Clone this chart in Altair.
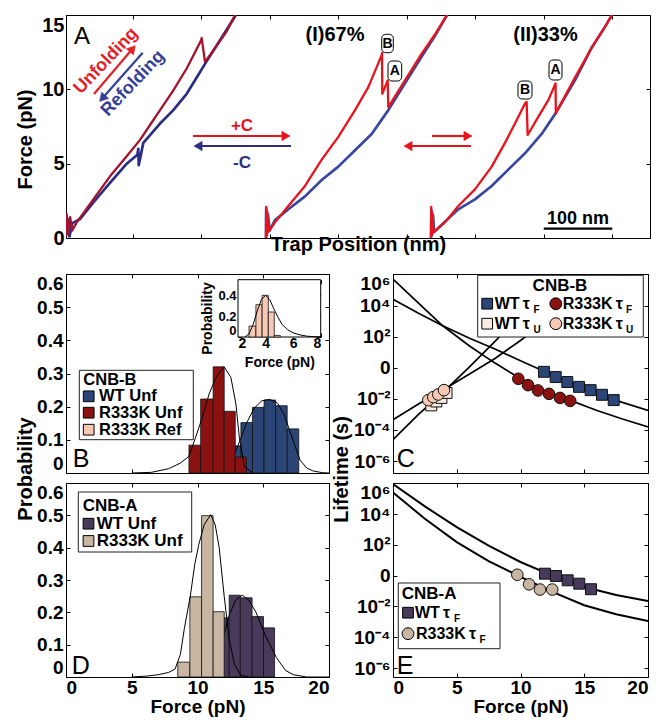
import altair as alt
import pandas as pd

FONT = "Liberation Sans"

# ================= Panel A : force vs trap position (nm, pN) =================
AL_unf_nm = [3, 4, 6, 9, 12, 18.5, 42.8, 67.1, 91.5, 110.9, 125.5, 140.1, 159.5, 179.0, 199.0, 200.9, 205.7, 217.8, 237.4, 249.5]
AL_unf_pN = [0.1, 1.6, 0.3, 1.4, 0.5, 1.05, 2.6, 4.15, 5.5, 6.6, 7.6, 8.6, 9.93, 11.4, 13.2, 13.45, 11.85, 12.6, 13.9, 15.0]
AL_ref_nm = [3, 5, 8, 12, 23.3, 42.8, 67.1, 91.5, 107.0, 108.4, 109.0, 115.7, 140.1, 159.5, 179.0, 193.6, 208.2, 227.6, 249.5, 253.0]
AL_ref_pN = [0.15, 1.3, 0.1, 1.0, 1.27, 2.4, 3.7, 5.0, 5.6, 6.0, 4.9, 6.4, 7.7, 8.6, 9.7, 10.8, 11.9, 13.3, 14.9, 15.3]

AM_unf_nm = [294.7, 294.9, 295.5, 296.5, 298.0, 307.8, 327.3, 351.6, 376.0, 400.2, 424.6, 444.0, 463.5, 464.0, 464.4, 472.3, 473.2, 497.5, 521.9, 541.3, 558.8]
AM_unf_pN = [0.0, 2.1, 0.3, 1.8, 0.4, 1.05, 2.15, 3.5, 5.27, 6.8, 8.6, 10.15, 12.3, 12.45, 9.7, 10.6, 8.8, 10.6, 12.4, 13.7, 15.0]
AM_ref_nm = [294.7, 295.0, 296.0, 297.5, 300.0, 307.8, 327.3, 351.6, 376.0, 400.2, 424.6, 448.9, 473.2, 497.5, 521.9, 541.3, 558.8]
AM_ref_pN = [0.0, 2.0, 0.2, 1.6, 0.5, 1.2, 1.93, 2.8, 3.9, 4.8, 5.9, 7.0, 8.6, 10.4, 12.2, 13.6, 15.0]

AR_unf_nm = [535.5, 535.8, 536.5, 537.5, 539.0, 555.9, 575.3, 599.6, 624.0, 643.4, 658.0, 672.6, 675.0, 676.5, 692.0, 706.6, 717.2, 717.6, 745.5, 769.9, 789.3, 799.5]
AR_unf_pN = [0.0, 2.1, 0.2, 1.7, 0.4, 1.05, 2.15, 3.27, 4.8, 6.4, 7.7, 9.05, 9.15, 6.93, 8.15, 9.27, 10.4, 8.4, 10.8, 12.8, 14.2, 15.0]
AR_ref_nm = [535.5, 536.0, 537.0, 538.5, 540.0, 555.9, 575.3, 599.6, 624.0, 648.2, 672.6, 696.9, 717.4, 745.5, 769.9, 789.3, 799.5]
AR_ref_pN = [0.0, 1.9, 0.2, 1.5, 0.4, 1.1, 1.93, 2.6, 3.5, 4.6, 5.7, 7.0, 8.4, 10.6, 12.8, 14.2, 15.0]

A_xticks = [100, 200, 300, 400, 500, 600, 700, 800]
A_yticks = [0, 5, 10, 15]
A_bar_nm = [700, 800]

# ================= Panel B : CNB-B unfolding force histograms =================
B_wt_edges = [12.41, 13.30, 14.18, 15.06, 15.94, 16.82, 17.70]
B_wt_prob = [0.082, 0.152, 0.198, 0.220, 0.203, 0.133]
B_mut_edges = [9.35, 10.24, 11.19, 12.03, 12.87, 13.72]
B_mut_prob = [0.084, 0.223, 0.320, 0.186, 0.048]
B_wt_fit_f = [11.0, 12.0, 12.7, 13.3, 13.7, 14.3, 14.9, 15.5, 16.1, 16.6, 17.27, 17.8, 18.3, 18.8, 19.5, 20.0]
B_wt_fit_p = [0.0, 0.012, 0.045, 0.105, 0.148, 0.195, 0.218, 0.222, 0.21, 0.175, 0.098, 0.039, 0.015, 0.006, 0.001, 0.0]
B_mut_fit_f = [5.0, 6.5, 7.8, 8.7, 9.35, 9.86, 10.37, 10.88, 11.4, 12.03, 12.54, 12.92, 13.18, 13.56, 14.2]
B_mut_fit_p = [0.0, 0.002, 0.013, 0.03, 0.05, 0.108, 0.168, 0.238, 0.288, 0.32, 0.288, 0.208, 0.108, 0.02, 0.0]
# inset: R333K refolding forces
B_ref_edges = [2.80, 3.30, 3.75, 4.20, 4.63, 5.07]
B_ref_prob = [0.105, 0.310, 0.400, 0.240, 0.015]
B_ref_fit_f = [2.5, 2.8, 3.1, 3.4, 3.7, 4.0, 4.3, 4.6, 4.9, 5.2, 5.6, 6.0, 6.5, 7.0, 7.5, 8.0]
B_ref_fit_p = [0.0, 0.03, 0.12, 0.25, 0.36, 0.40, 0.36, 0.27, 0.19, 0.12, 0.07, 0.04, 0.02, 0.008, 0.003, 0.001]

# ================= Panel D : CNB-A unfolding force histograms =================
D_wt_edges = [11.55, 12.41, 13.26, 14.15, 15.02, 15.86]
D_wt_prob = [0.183, 0.253, 0.245, 0.187, 0.152]
D_mut_edges = [8.50, 9.42, 10.31, 11.19, 12.03]
D_mut_prob = [0.046, 0.248, 0.499, 0.202]
D_wt_fit_f = [10.5, 11.0, 11.4, 11.9, 12.4, 12.9, 13.4, 13.9, 14.45, 15.2, 16.0, 16.7, 17.3, 18.3, 20.0]
D_wt_fit_p = [0.0, 0.01, 0.045, 0.115, 0.19, 0.238, 0.253, 0.238, 0.2, 0.125, 0.06, 0.02, 0.007, 0.0, 0.0]
D_mut_fit_f = [5.0, 6.2, 7.0, 7.8, 8.3, 8.7, 9.0, 9.45, 9.8, 10.1, 10.5, 11.0, 11.35, 11.65, 12.03, 12.4, 12.8, 13.3, 13.9]
D_mut_fit_p = [0.0, 0.003, 0.007, 0.014, 0.025, 0.07, 0.15, 0.25, 0.35, 0.41, 0.47, 0.502, 0.47, 0.40, 0.25, 0.12, 0.04, 0.005, 0.0]

HIST_XTICKS = [0, 5, 10, 15, 20]
HIST_YTICKS = [0, 0.1, 0.2, 0.3, 0.4, 0.5, 0.6]

# ================= Panel C : CNB-B lifetimes (log10 of seconds) =================
C_wtF_f = [11.84, 12.76, 13.67, 14.59, 15.50, 16.39, 17.31]
C_wtF_log = [-0.26, -0.60, -0.92, -1.23, -1.44, -1.74, -2.08]
C_mutF_f = [9.83, 10.59, 11.37, 12.24, 13.10, 13.90]
C_mutF_log = [-0.71, -1.12, -1.46, -1.68, -1.94, -2.13]
C_wtU_f = [3.00, 3.40, 3.80, 4.20]
C_wtU_log = [-2.42, -2.17, -1.94, -1.62]
C_mutU_f = [2.77, 3.16, 3.55, 4.00]
C_mutU_log = [-2.08, -1.89, -1.72, -1.44]
C_fit_mutF_f = [0, 2, 3.9, 6, 8, 9.83, 11.4, 13.9, 16, 18, 20]
C_fit_mutF_log = [5.7, 4.15, 2.7, 1.4, 0.3, -0.62, -1.3, -2.1, -2.75, -3.3, -3.8]
C_fit_wtF_f = [0, 2, 3.9, 6, 8, 10, 11.84, 13.7, 15.5, 17.3, 20]
C_fit_wtF_log = [4.4, 3.5, 2.7, 1.9, 1.2, 0.45, -0.22, -0.9, -1.5, -2.05, -2.75]
C_fit_wtU_f = [0, 2, 4.08, 6, 8, 9, 10, 12, 14]
C_fit_wtU_log = [-4.63, -3.0, -1.45, 0.05, 1.7, 2.55, 3.4, 5.0, 6.6]
C_fit_mutU_f = [0, 2, 4.08, 6, 8, 10, 11.3, 12, 14, 16, 18, 20]
C_fit_mutU_log = [-3.34, -2.33, -1.35, -0.4, 0.6, 1.75, 2.55, 2.95, 4.0, 5.0, 5.9, 6.7]

# ================= Panel E : CNB-A lifetimes (log10 of seconds) =================
E_wtF_f = [11.92, 12.78, 13.70, 14.61, 15.53]
E_wtF_log = [0.13, -0.02, -0.30, -0.52, -0.88]
E_mutF_f = [9.75, 10.67, 11.53, 12.49]
E_mutF_log = [0.06, -0.56, -0.90, -0.90]
E_fit_f = [0, 2.5, 5, 7.5, 10, 12.5, 15, 17.5, 20]
E_fit_wt_log = [5.95, 4.5, 3.15, 1.95, 0.89, 0.0, -0.73, -1.25, -1.64]
E_fit_mut_log = [5.4, 3.7, 2.18, 0.95, -0.08, -1.05, -1.92, -2.5, -2.95]

LOG_TICKS = [1e-6, 1e-4, 1e-2, 1, 1e2, 1e4, 1e6]

# ---------------- colours ----------------
CRIMSON = "#a3132c"
NAVY = "#2b2e83"
RED = "#e8141c"
BLUE = "#3a47a0"
B_WT = "#2b4676"
B_MUT = "#8c1212"
B_REF = "#f7c8b3"
D_WT = "#483a5a"
D_MUT = "#c8b6a2"
C_CREAM = "#f7ece2"


# ---------------- helpers ----------------
def one():
    return alt.Data(values=[{"k": 1}])


def sdf(name, xs, ys):
    return pd.DataFrame({"x": xs, "y": ys, "series": name, "idx": list(range(len(xs)))})


def pow10(v):
    return [10 ** a for a in v]


def bars_df(edges, probs):
    return pd.DataFrame({"lo": edges[:-1], "hi": edges[1:], "p": probs})


def ax(orient, values, labels=True, size=19, **kw):
    d = dict(orient=orient, values=values, labels=labels, ticks=True, tickSize=4,
             tickColor="black", tickWidth=1, offset=-4, domain=False, grid=False,
             labelFont=FONT, labelFontSize=size, labelFontWeight="bold",
             labelColor="black", labelOverlap=False,
             titleFont=FONT, titleFontSize=20, titleFontWeight="bold", titleColor="black")
    d.update(kw)
    if "title" not in d:
        d["title"] = None
    return alt.Axis(**d)


def frame(xs, ys, xv, yv, fx, fy, top_kw=None, right_kw=None):
    top_kw = top_kw or {}
    right_kw = right_kw or {}
    d = alt.Data(values=[{"fx": fx, "fy": fy}])
    return alt.Chart(d).mark_point(opacity=0, clip=True).encode(
        x=alt.X("fx:Q", scale=xs, axis=ax("top", xv, labels=False, **top_kw)),
        y=alt.Y("fy:Q", scale=ys, axis=ax("right", yv, labels=False, **right_kw)))


def text(x, y, s, size=18, color="black", weight="bold", align="left",
         baseline="middle", angle=None, font=FONT):
    props = dict(text=s, fontSize=size, color=color, fontWeight=weight,
                 align=align, baseline=baseline, font=font)
    if angle is not None:
        props["angle"] = angle
    return alt.Chart(one()).mark_text(**props).encode(x=alt.value(x), y=alt.value(y))


def box(x1, y1, x2, y2, stroke="#222", sw=1, radius=0):
    props = dict(fill="white", stroke=stroke, strokeWidth=sw)
    if radius:
        props["cornerRadius"] = radius
    return alt.Chart(one()).mark_rect(**props).encode(
        x=alt.value(x1), x2=alt.value(x2), y=alt.value(y1), y2=alt.value(y2))


def seg(x1, y1, x2, y2, color, sw=2):
    return alt.Chart(one()).mark_rule(color=color, strokeWidth=sw).encode(
        x=alt.value(x1), y=alt.value(y1), x2=alt.value(x2), y2=alt.value(y2))


def head(x, y, shape, color, size=80, angle=None):
    props = dict(shape=shape, filled=True, fill=color, stroke=color, strokeWidth=0.5,
                 size=size, opacity=1)
    if angle is not None:
        props["angle"] = angle
    return alt.Chart(one()).mark_point(**props).encode(x=alt.value(x), y=alt.value(y))


def sym(x, y, shape, fill, size=120):
    return alt.Chart(one()).mark_point(shape=shape, filled=True, fill=fill, stroke="black",
                                       strokeWidth=1, size=size, opacity=1).encode(
        x=alt.value(x), y=alt.value(y))


def hist(df, color, xs, ys, xaxis=None, yaxis=None):
    return alt.Chart(df).mark_bar(fill=color, stroke="#111", strokeWidth=0.8, clip=True).encode(
        x=alt.X("lo:Q", scale=xs, axis=xaxis), x2="hi:Q",
        y=alt.Y("p:Q", scale=ys, axis=yaxis), y2=alt.Y2Datum(0))


def curve(fs, ps, xs, ys, sw=1):
    df = pd.DataFrame({"f": fs, "p": ps, "idx": list(range(len(fs)))})
    return alt.Chart(df).mark_line(color="black", strokeWidth=sw, clip=True).encode(
        x=alt.X("f:Q", scale=xs, axis=None), y=alt.Y("p:Q", scale=ys, axis=None),
        order="idx:Q")


PROB_EXPR = "datum.value == 0 ? '0' : format(datum.value, '.1f')"
LOG_EXPR = ("datum.value > 1e5 ? '10\u2076' : datum.value > 1e3 ? '10\u2074' : "
            "datum.value > 10 ? '10\u00b2' : datum.value > 0.1 ? '0\u2002' : "
            "datum.value > 1e-3 ? '10\u207b\u00b2' : datum.value > 1e-5 ? '10\u207b\u2074' : '10\u207b\u2076'")

# ================= build panel A =================
xA = alt.Scale(domain=[2.9, 855], nice=False, zero=False)
yA = alt.Scale(domain=[0, 15], nice=False, zero=False)
colA = alt.Scale(domain=["L_ref", "M_ref", "R_ref", "L_unf", "M_unf", "R_unf"],
                 range=[NAVY, BLUE, BLUE, CRIMSON, RED, RED])
refA = pd.concat([sdf("L_ref", AL_ref_nm, AL_ref_pN), sdf("M_ref", AM_ref_nm, AM_ref_pN),
                  sdf("R_ref", AR_ref_nm, AR_ref_pN)])
unfA = pd.concat([sdf("L_unf", AL_unf_nm, AL_unf_pN), sdf("M_unf", AM_unf_nm, AM_unf_pN),
                  sdf("R_unf", AR_unf_nm, AR_unf_pN)])

A_ref = alt.Chart(refA).mark_line(clip=True, strokeWidth=2.7, strokeJoin="round").encode(
    x=alt.X("x:Q", scale=xA, axis=ax("bottom", A_xticks, labels=False, title="Trap Position (nm)",
                                     titleY=10.5, titleBaseline="middle")),
    y=alt.Y("y:Q", scale=yA, axis=ax("left", A_yticks, size=20, labelPadding=2,
                                     labelBaseline=alt.condition("datum.value == 15", alt.value("top"),
                                                                 alt.value("middle")),
                                     title="Force (pN)", titleAngle=270, titleX=-44.5, titleY=124,
                                     titleBaseline="middle", titleAlign="center")),
    color=alt.Color("series:N", scale=colA, legend=None), order="idx:Q")
A_unf = alt.Chart(unfA).mark_line(clip=True, strokeWidth=2.3, strokeJoin="round").encode(
    x=alt.X("x:Q", scale=xA, axis=None), y=alt.Y("y:Q", scale=yA, axis=None),
    color=alt.Color("series:N", scale=colA, legend=None), order="idx:Q")

scalebar = alt.Chart(one()).mark_rule(color="black", strokeWidth=2.2).encode(
    x=alt.XDatum(A_bar_nm[0], scale=xA, axis=None), x2=alt.X2Datum(A_bar_nm[1]), y=alt.value(213.7))

A_annot = [
    text(8, 29, "A", size=24, weight="normal", baseline="alphabetic"),
    text(40, 46, "Unfolding", size=18, color="#e42028", align="center", angle=313.6),
    seg(28, 79, 65.7, 34.8, "#e42028", 2.2), head(65.7, 34.8, "triangle", "#e42028", 90, 41),
    text(67, 68.5, "Refolding", size=18, color="#353f98", align="center", angle=313.6),
    seg(76.7, 37.7, 37.3, 82.3, "#353f98", 2.2), head(37.3, 82.3, "triangle", "#353f98", 90, 221.5),
    text(176, 111, "+C", size=17, color=RED, align="center"),
    seg(127, 121, 216, 121, RED, 2.2), head(220, 121, "triangle-right", RED, 90),
    seg(225, 131, 136, 131, NAVY, 2.2), head(132, 131, "triangle-left", NAVY, 90),
    text(176, 148, "-C", size=17, color=NAVY, align="center"),
    text(269, 20, "(I)67%", size=20, align="center"),
    text(479.5, 20, "(II)33%", size=20, align="center"),
    box(315.7, 19.3, 327.3, 37.7, "black", 1, 4), text(321.5, 28.5, "B", size=14, align="center"),
    box(322, 46, 335.7, 66, "black", 1, 4), text(328.8, 56, "A", size=14, align="center"),
    box(452, 66, 466, 84, "black", 1, 4), text(459, 75, "B", size=14, align="center"),
    box(483, 45, 496, 65, "black", 1, 4), text(489.5, 55, "A", size=14, align="center"),
    seg(366, 121, 398, 121, RED, 2.2), head(402, 121, "triangle-right", RED, 90),
    seg(405, 131, 346, 131, RED, 2.2), head(342, 131, "triangle-left", RED, 90),
    scalebar,
    text(512, 204, "100 nm", size=18, align="center"),
]
A = alt.layer(A_ref, A_unf, *A_annot, frame(xA, yA, A_xticks, A_yticks, 100, 5)).properties(
    width=584, height=223)

# ================= build panel B =================
xB = alt.Scale(domain=[0, 20], nice=False, zero=False)
yB = alt.Scale(domain=[0, 0.6], nice=False, zero=False)
B_main = alt.layer(
    hist(bars_df(B_wt_edges, B_wt_prob), B_WT, xB, yB,
         xaxis=ax("bottom", HIST_XTICKS, labels=False),
         yaxis=ax("left", HIST_YTICKS, labelExpr=PROB_EXPR, labelPadding=3, labelFlush=3,
                  title="Probability", titleAngle=270, titleX=-44.5, titleY=194.5,
                  titleBaseline="middle", titleAlign="center")),
    curve(B_wt_fit_f, B_wt_fit_p, xB, yB),
    hist(bars_df(B_mut_edges, B_mut_prob), B_MUT, xB, yB),
    curve(B_mut_fit_f, B_mut_fit_p, xB, yB),
    box(13.3, 96.3, 127.3, 165.7),
    text(17.3, 106.3, "CNB-B", size=16.5),
    sym(22.7, 122.3, "square", B_WT, 115), text(33, 122.3, "WT Unf", size=16.5),
    sym(22.7, 138.7, "square", B_MUT, 115), text(33, 138.7, "R333K Unf", size=16.5),
    sym(22.7, 155.7, "square", B_REF, 115), text(33, 155.7, "R333K Ref", size=16.5),
    text(6.7, 193, "B", size=25, weight="normal", baseline="alphabetic"),
    frame(xB, yB, HIST_XTICKS, HIST_YTICKS, 10, 0.1),
)
xI = alt.Scale(domain=[2, 8], range=[172, 254.7], nice=False, zero=False)
yI = alt.Scale(domain=[0, 0.55], range=[63, 5.7], nice=False, zero=False)
inset_rect = alt.Chart(one()).mark_rect(fill="white", stroke="black", strokeWidth=1).encode(
    x=alt.XDatum(2, scale=xI, axis=None), x2=alt.X2Datum(8),
    y=alt.YDatum(0, scale=yI, axis=None), y2=alt.Y2Datum(0.55))
B_inset = alt.layer(
    inset_rect,
    hist(bars_df(B_ref_edges, B_ref_prob), B_REF, xI, yI,
         xaxis=ax("bottom", [2, 4, 6, 8], size=14, offset=-140, labelPadding=-1,
                  title="Force (pN)", titleFontSize=14, titleY=29, titleBaseline="middle"),
         yaxis=ax("left", [0, 0.2, 0.4], size=13, offset=-176, labelPadding=2, labelFlush=2,
                  labelExpr=PROB_EXPR, title="Probability", titleFontSize=14, titleAngle=270,
                  titleX=-34.5, titleY=44, titleBaseline="middle", titleAlign="center")),
    curve(B_ref_fit_f, B_ref_fit_p, xI, yI),
    frame(xI, yI, [2, 4, 6, 8], [0, 0.2, 0.4], 5, 0.2,
          top_kw=dict(offset=-9.7), right_kw=dict(offset=-12.3)),
)
B = alt.layer(B_main, B_inset).resolve_scale(x="independent", y="independent").properties(
    width=263, height=199)

# ================= build panel D =================
yD = alt.Scale(domain=[0, 0.6], nice=False, zero=False)
D = alt.layer(
    hist(bars_df(D_wt_edges, D_wt_prob), D_WT, xB, yD,
         xaxis=ax("bottom", HIST_XTICKS, labelPadding=1, title="Force (pN)", titleY=33,
                  titleFontSize=19, titleBaseline="middle"),
         yaxis=ax("left", HIST_YTICKS, labelExpr=PROB_EXPR, labelPadding=3, labelFlush=3)),
    curve(D_wt_fit_f, D_wt_fit_p, xB, yD),
    hist(bars_df(D_mut_edges, D_mut_prob), D_MUT, xB, yD),
    curve(D_mut_fit_f, D_mut_fit_p, xB, yD),
    box(12.3, 9, 125.7, 69),
    text(16.7, 23.3, "CNB-A", size=17),
    sym(22.5, 40.7, "square", D_WT, 115), text(30.7, 40.7, "WT Unf", size=17),
    sym(22.5, 58, "square", D_MUT, 115), text(30.7, 58, "R333K Unf", size=17),
    text(5.7, 191, "D", size=25, weight="normal", baseline="alphabetic"),
    frame(xB, yD, HIST_XTICKS, HIST_YTICKS, 10, 0.1),
).properties(width=263, height=194)

# ================= build panel C =================
xC = alt.Scale(domain=[0, 20], nice=False, zero=False)
yC = alt.Scale(type="log", domain=[10 ** -6.77, 10 ** 6.03], nice=False)
C_fits = pd.concat([
    sdf("mutF", C_fit_mutF_f, pow10(C_fit_mutF_log)),
    sdf("wtF", C_fit_wtF_f, pow10(C_fit_wtF_log)),
    sdf("wtU", C_fit_wtU_f, pow10(C_fit_wtU_log)),
    sdf("mutU", C_fit_mutU_f, pow10(C_fit_mutU_log)),
])


def pts(fs, logs, shape, fill, xs, ys, size=135):
    df = pd.DataFrame({"f": fs, "t": pow10(logs)})
    return alt.Chart(df).mark_point(shape=shape, filled=True, fill=fill, stroke="#111",
                                    strokeWidth=1, size=size, opacity=1, clip=True).encode(
        x=alt.X("f:Q", scale=xs, axis=None), y=alt.Y("t:Q", scale=ys, axis=None))


C = alt.layer(
    alt.Chart(C_fits).mark_line(color="black", strokeWidth=1.7, clip=True).encode(
        x=alt.X("x:Q", scale=xC, axis=ax("bottom", HIST_XTICKS, labels=False)),
        y=alt.Y("y:Q", scale=yC, axis=ax("left", LOG_TICKS, labelExpr=LOG_EXPR, labelPadding=3,
                                         labelFlush=3, title="Lifetime (s)", titleAngle=270,
                                         titleX=-55.5, titleY=195, titleBaseline="middle",
                                         titleAlign="center")),
        detail="series:N", order="idx:Q"),
    pts(C_wtU_f, C_wtU_log, "square", C_CREAM, xC, yC, 120),
    pts(C_mutU_f, C_mutU_log, "circle", B_REF, xC, yC),
    pts(C_wtF_f, C_wtF_log, "square", B_WT, xC, yC, 120),
    pts(C_mutF_f, C_mutF_log, "circle", B_MUT, xC, yC),
    box(84.7, 1.3, 250.3, 63),
    text(167, 12.3, "CNB-B", size=17, align="center"),
    sym(94.2, 29.7, "square", B_WT, 115), text(101.7, 29.7, "WT\u2009\u03c4", size=16),
    text(140.5, 36, "F", size=10),
    sym(162.8, 29.7, "circle", B_MUT, 140), text(169.7, 29.7, "R333K\u2009\u03c4", size=16),
    text(233, 36, "F", size=10),
    sym(94.2, 49.7, "square", C_CREAM, 115), text(101.7, 49.7, "WT\u2009\u03c4", size=16),
    text(140.5, 56, "U", size=10),
    sym(162.8, 49.7, "circle", B_REF, 140), text(169.7, 49.7, "R333K\u2009\u03c4", size=16),
    text(233, 56, "U", size=10),
    text(3.7, 193, "C", size=25, weight="normal", baseline="alphabetic"),
    frame(xC, yC, HIST_XTICKS, LOG_TICKS, 10, 1),
).properties(width=255, height=199)

# ================= build panel E =================
yE = alt.Scale(type="log", domain=[10 ** -6.58, 10 ** 6.02], nice=False)
E_fits = pd.concat([sdf("wt", E_fit_f, pow10(E_fit_wt_log)), sdf("mut", E_fit_f, pow10(E_fit_mut_log))])
E = alt.layer(
    alt.Chart(E_fits).mark_line(color="black", strokeWidth=2, clip=True).encode(
        x=alt.X("x:Q", scale=xC, axis=ax("bottom", HIST_XTICKS, labelPadding=1, title="Force (pN)",
                                         titleY=33, titleFontSize=19, titleBaseline="middle")),
        y=alt.Y("y:Q", scale=yE, axis=ax("left", LOG_TICKS, labelExpr=LOG_EXPR, labelPadding=3,
                                         labelFlush=3)),
        detail="series:N", order="idx:Q"),
    pts(E_wtF_f, E_wtF_log, "square", D_WT, xC, yE, 120),
    pts(E_mutF_f, E_mutF_log, "circle", D_MUT, xC, yE),
    box(5.3, 100, 107, 165.7),
    text(8.7, 110.7, "CNB-A", size=17),
    sym(15, 129.7, "square", D_WT, 115), text(22, 129.7, "WT\u2009\u03c4", size=16),
    text(61, 136, "F", size=10),
    sym(15, 150.7, "circle", D_MUT, 140), text(23, 150.7, "R333K\u2009\u03c4", size=16),
    text(86.5, 157, "F", size=10),
    text(3.7, 191, "E", size=25, weight="normal", baseline="alphabetic"),
    frame(xC, yE, HIST_XTICKS, LOG_TICKS, 10, 1),
).properties(width=255, height=194)

grid = alt.concat(B, C, D, E, columns=2, spacing={"row": 10, "column": 64}, bounds="flush")

chart = alt.vconcat(A, grid, spacing=18).properties(
    padding={"left": 7, "top": 6, "right": 5, "bottom": 0}
).configure(font=FONT).configure_view(stroke="black", strokeWidth=1)

chart.save("out.html", embed_options={"renderer": "svg", "actions": False})
